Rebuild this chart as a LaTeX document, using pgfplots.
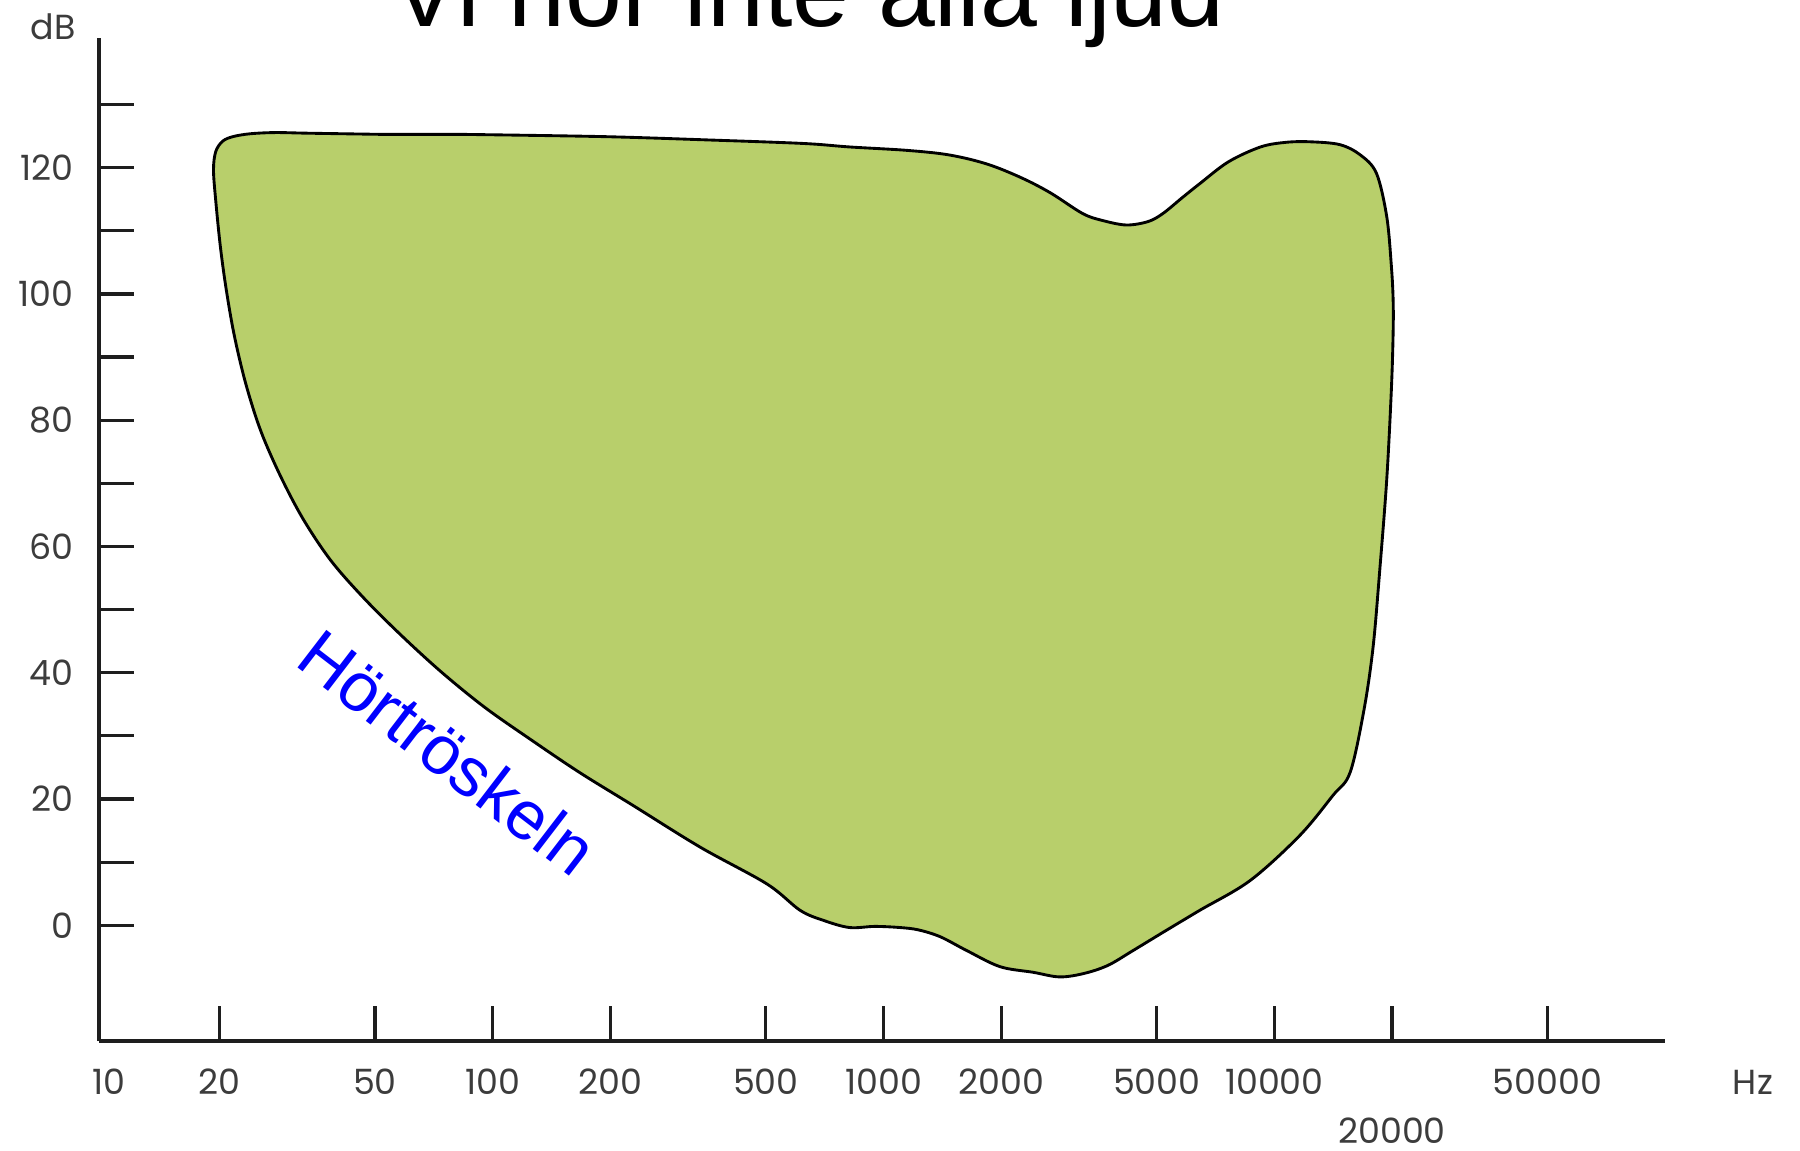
\documentclass[border=0pt]{standalone}
\usepackage{fontspec}
\setmainfont{Liberation Sans}
\newfontfamily\tickfont{Poppins}
\usepackage{pgfplots}
\pgfplotsset{compat=1.18}
\definecolor{area}{RGB}{184,207,107}
\definecolor{axisgray}{RGB}{30,30,30}
\definecolor{labgray}{RGB}{60,60,60}
\begin{document}
\begin{tikzpicture}
\useasboundingbox (0,0) rectangle (470.4pt,300.6pt);
\clip (0,0) rectangle (470.4pt,300.6pt);
\fill[white] (0,0) rectangle (470.4pt,300.6pt);
\begin{axis}[
  at={(25.8pt,28.5pt)}, anchor=south west,
  scale only axis, width=409.4pt, height=262.2pt,
  xmode=log, xmin=9.826, xmax=100000,
  ymin=-18.364, ymax=140.545,
  axis lines=left,
  axis line style={-, line width=1.0pt, draw=axisgray},
  tick align=inside,
  major tick length=9.3pt, minor tick length=9.3pt,
  every tick/.style={line width=0.85pt, draw=axisgray},
  xtick={20,50,100,200,500,1000,2000,5000,10000,50000},
  xticklabels={20,50,100,200,500,1000,2000,5000,10000,50000},
  extra x ticks={20000}, extra x tick labels={20000},
  extra x tick style={xticklabel style={yshift=-12.8pt}},
  minor x tick num=0,
  ytick={0,20,...,120}, yticklabels={0,20,40,60,80,100,120},
  minor ytick={10,30,...,130},
  ticklabel style={font=\tickfont\fontsize{9.1}{11}\selectfont, text=labgray},
  xticklabel style={anchor=center, yshift=-10.5pt},
  yticklabel style={anchor=east, xshift=-3pt},
  clip=false,
]
\addplot[smooth, tension=0.55, draw=black, line width=0.75pt, fill=area] coordinates {
(82.1,125.27) (191.2,124.91) (363.6,124.36) (624.6,123.82) (818.8,123.27)
(1148,122.73) (1474,122.0) (1843,120.55) (2258,118.36) (2673,116.0)
(3231,112.73) (3624,111.64) (4178,110.91) (4750,111.45) (5185,112.73)
(5819,115.27) (6440,117.45) (7625,120.91) (9214,123.27) (10693,124.0)
(12322,124.09) (14695,123.64) (16596,122.0) (18245,119.09) (19387,112.18)
(19920,104.36) (20123,99.09) (20123,93.82) (19920,84.91) (19387,70.73)
(18619,56.55) (17879,44.0) (16936,34.0) (15615,24.18) (14111,20.55)
(11595,14.18) (8670,7.09) (6440,2.36) (5256,-0.91) (4350,-4.0)
(3749,-6.36) (3253,-7.64) (2821,-8.18) (2415,-7.45) (1985,-6.55)
(1632,-4.0) (1397,-1.82) (1228,-0.73) (1102,-0.36) (950,-0.18)
(818.8,-0.36) (705.5,0.73) (612.1,2.36) (503.0,6.55) (339.9,12.36)
(229.6,18.91) (167.1,24.18) (124.9,29.45) (95.30,34.55) (73.72,40.18)
(57.79,46.18) (46.54,52.0) (38.51,57.82) (32.74,64.36) (28.60,71.27)
(25.50,78.36) (23.35,85.82) (21.83,93.45) (20.82,100.73) (20.12,107.45)
(19.58,114.73) (19.32,119.64) (19.58,122.55) (20.39,124.18) (21.68,124.91)
(23.99,125.36) (27.84,125.55) (33.65,125.45) (51.17,125.27)
} -- cycle;
\node[anchor=base, rotate=-37.5, text=blue, font=\fontsize{18}{20}\selectfont] at (axis cs:70.3,24.25) {Hörtröskeln};
\end{axis}
\node[anchor=base, font=\fontsize{26.7}{30}\selectfont] at (211.2pt,293.7pt) {Vi hör inte alla ljud};
\node[anchor=center, text=labgray, font=\tickfont\fontsize{9.1}{11}\selectfont] at (28.5pt,18pt) {10};
\node[anchor=center, text=labgray, font=\tickfont\fontsize{9.1}{11}\selectfont] at (13.95pt,293.7pt) {dB};
\node[anchor=center, text=labgray, font=\tickfont\fontsize{9.1}{11}\selectfont] at (458.1pt,17.7pt) {Hz};
\end{tikzpicture}
\end{document}
